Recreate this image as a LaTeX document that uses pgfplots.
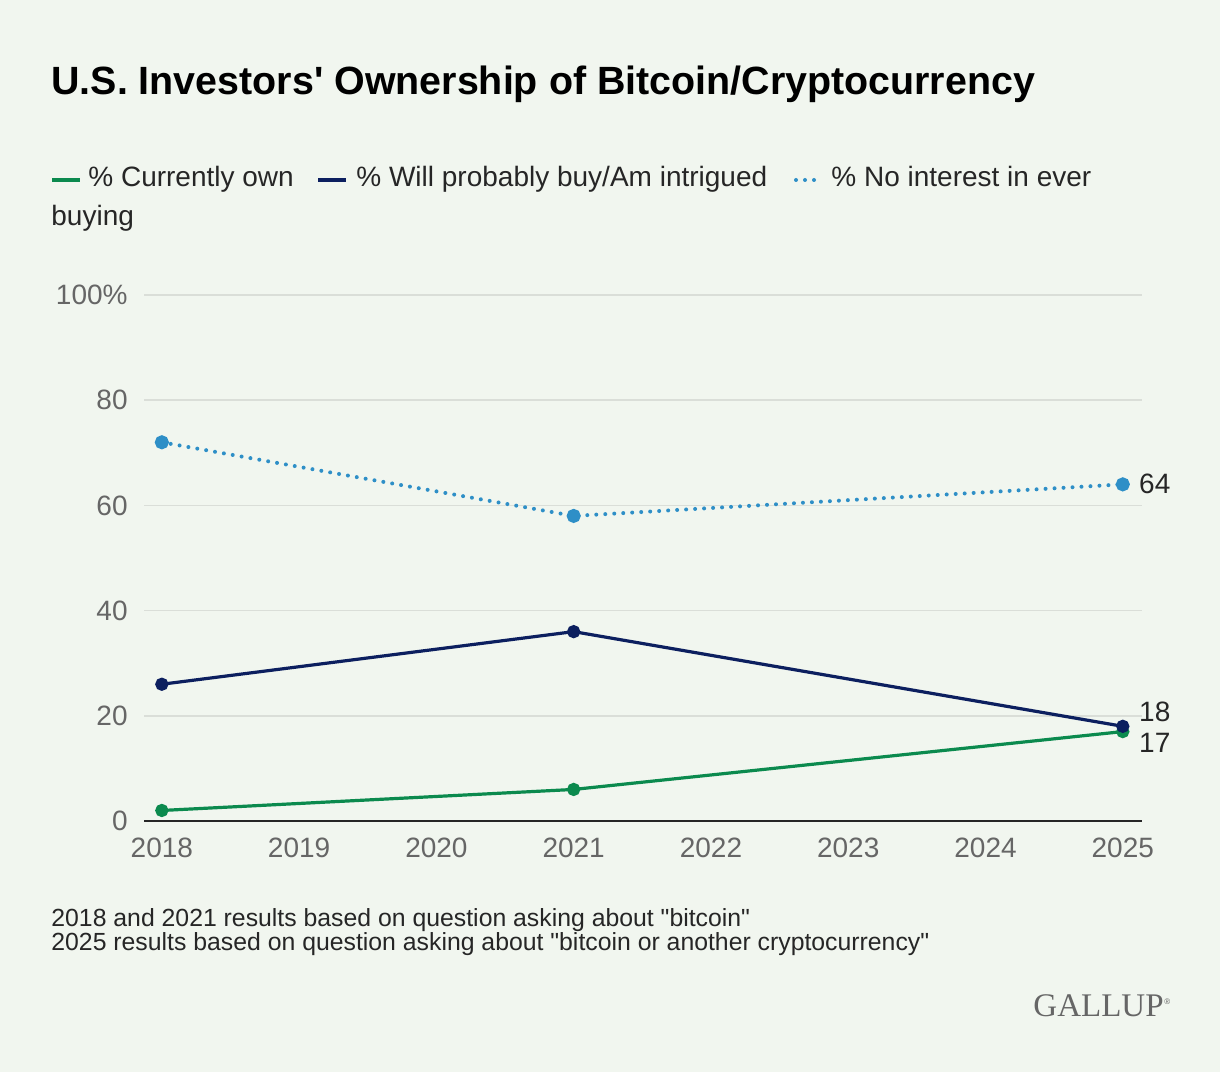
\documentclass[border=0pt]{standalone}
\usepackage{pgfplots}
\pgfplotsset{compat=1.18}
\usepackage{fontspec}
\setmainfont{Liberation Sans}
\newfontfamily\qfont{Liberation Sans}
\newfontfamily\seriffont{Liberation Serif}
\newcommand{\sq}{{\qfont\symbol{39}}}
\newcommand{\dq}{{\qfont\symbol{34}}}
\definecolor{bg}{HTML}{F1F6EF}
\definecolor{cgreen}{HTML}{0B8A4E}
\definecolor{cnavy}{HTML}{0C1F5F}
\definecolor{cblue}{HTML}{2E8FC7}
\definecolor{gridc}{HTML}{DADED8}
\definecolor{ticktext}{HTML}{666666}
\definecolor{darktext}{HTML}{262626}
\begin{document}
\begin{tikzpicture}
\path[use as bounding box, fill=bg] (0,0) rectangle (610pt,536pt);
\begin{scope}[x=0.5pt,y=0.5pt]
% title
\node[anchor=base west, inner sep=0pt, font=\fontsize{19.7}{22}\selectfont\bfseries, text=black] at (51,1072-95) {U.S. Investors{\qfont\bfseries\symbol{39}} Ownership of Bitcoin/Cryptocurrency};
% legend
\draw[cgreen, line width=1.6pt] (52,1072-180) -- (80,1072-180);
\node[anchor=base west, inner sep=0pt, font=\fontsize{14}{16}\selectfont, text=darktext] at (88,1072-187) {\% Currently own};
\draw[cnavy, line width=1.6pt] (318,1072-180) -- (346,1072-180);
\node[anchor=base west, inner sep=0pt, font=\fontsize{14}{16}\selectfont, text=darktext] at (356,1072-187) {\% Will probably buy/Am intrigued};
\draw[cblue, line width=2pt, line cap=round, dash pattern=on 0pt off 4.5pt] (796,1072-180) -- (822,1072-180);
\node[anchor=base west, inner sep=0pt, font=\fontsize{14}{16}\selectfont, text=darktext] at (831,1072-187) {\% No interest in ever};
\node[anchor=base west, inner sep=0pt, font=\fontsize{14}{16}\selectfont, text=darktext] at (51,1072-226) {buying};
% footnotes
\node[anchor=base west, inner sep=0pt, font=\fontsize{12.4}{14}\selectfont, text=darktext] at (51,1072-926) {2018 and 2021 results based on question asking about \dq bitcoin\dq};
\node[anchor=base west, inner sep=0pt, font=\fontsize{12.4}{14}\selectfont, text=darktext] at (51,1072-950) {2025 results based on question asking about \dq bitcoin or another cryptocurrency\dq};
% logo
\node[anchor=base east, inner sep=0pt, font=\seriffont\fontsize{16.5}{18}\selectfont, text=ticktext] at (1164,1072-1016) {GALLUP};
\node[anchor=base west, inner sep=0pt, font=\fontsize{4}{5}\selectfont, text=ticktext] at (1164,1072-1004) {\textregistered};
\end{scope}
\begin{axis}[
  at={(72pt,125.5pt)}, anchor=south west,
  scale only axis, width=499pt, height=263pt,
  xmin=2017.87, xmax=2025.14, ymin=0, ymax=100,
  xtick={2018,2019,2020,2021,2022,2023,2024,2025},
  ytick={0,20,40,60,80,100},
  yticklabels={0,20,40,60,80,100\%},
  /pgf/number format/1000 sep={},
  /pgf/number format/assume math mode=true,
  major tick length=0pt,
  tick style={draw=none},
  axis x line*=bottom, axis y line*=left,
  x axis line style={-, draw=darktext, line width=1pt},
  y axis line style={draw=none},
  ymajorgrids, grid style={gridc, line width=0.8pt},
  ticklabel style={font=\fontsize{14}{16}\selectfont, text=ticktext},
  yticklabel style={anchor=east, inner sep=0pt, xshift=-8pt},
  xticklabel style={anchor=north, inner sep=0pt, yshift=-8.5pt},
  clip=false,
]
\addplot[cgreen, line width=1.6pt, mark=*, mark size=2.5pt, mark options={fill=cgreen}] coordinates {(2018,2) (2021,6) (2025,17)};
\addplot[cnavy, line width=1.6pt, mark=*, mark size=2.5pt, mark options={fill=cnavy}] coordinates {(2018,26) (2021,36) (2025,18)};
\addplot[cblue, line width=2pt, line cap=round, dash pattern=on 0pt off 4.5pt, mark=*, mark size=2.5pt, mark options={solid, fill=cblue, draw=cblue}] coordinates {(2018,72) (2021,58) (2025,64)};
\node[anchor=west, inner sep=0pt, xshift=8pt, font=\fontsize{14}{16}\selectfont, text=darktext] at (axis cs:2025,64) {64};
\node[anchor=west, inner sep=0pt, xshift=8pt, yshift=7pt, font=\fontsize{14}{16}\selectfont, text=darktext] at (axis cs:2025,18) {18};
\node[anchor=west, inner sep=0pt, xshift=8pt, yshift=-5.5pt, font=\fontsize{14}{16}\selectfont, text=darktext] at (axis cs:2025,17) {17};
\end{axis}
\end{tikzpicture}
\end{document}
